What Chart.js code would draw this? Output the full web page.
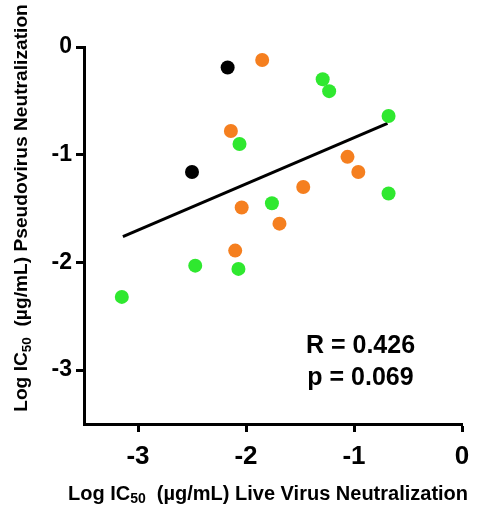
<!DOCTYPE html>
<html>
<head>
<meta charset="utf-8">
<script src="https://cdn.jsdelivr.net/npm/chart.js@4/dist/chart.umd.min.js"></script>
<style>
  html, body { margin: 0; padding: 0; background: #fff; }
  #wrap { width: 488px; height: 509px; position: relative; }
</style>
</head>
<body>
<div id="wrap"><canvas id="scatterChart"></canvas></div>
<script>
// values (log IC50)
const blackX = [-2.17, -2.50];
const blackY = [-0.19, -1.16];
const orangeX = [-2.14, -2.04, -1.85, -1.06, -0.96, -1.47, -1.69, -2.10];
const orangeY = [-0.78, -1.49, -0.12, -1.02, -1.16, -1.30, -1.64, -1.89];
const greenX = [-2.06, -1.29, -1.23, -0.68, -0.68, -1.76, -2.07, -2.47, -3.15];
const greenY = [-0.90, -0.30, -0.41, -0.64, -1.36, -1.45, -2.06, -2.03, -2.32];
const fitX = [-3.14, -0.69];
const fitY = [-1.76, -0.71];
const xTicks = [-3, -2, -1, 0];
const yTicks = [0, -1, -2, -3];
const statLines = ['R = 0.426', 'p = 0.069'];

const FONT = '"Liberation Sans", Arial, Helvetica, sans-serif';

function pts(xs, ys) {
  return xs.map((x, i) => ({ x: x, y: ys[i] }));
}

// draws axis titles (with subscript 50) and the R / p text
const textPlugin = {
  id: 'textPlugin',
  afterDraw(chart) {
    const ctx = chart.ctx;
    const area = chart.chartArea;
    const parts = [
      { t: 'Log IC', sub: false },
      { t: '50', sub: true },
      { t: '  (\u00B5g/mL) ', sub: false }
    ];

    function drawTitle(rest, cx, cy, rot, size) {
      const all = parts.concat([{ t: rest, sub: false }]);
      const fontFor = (p) => 'bold ' + (p.sub ? size * 0.7 : size) + 'px ' + FONT;
      ctx.save();
      ctx.translate(cx, cy);
      ctx.rotate(rot);
      ctx.fillStyle = '#000';
      ctx.textBaseline = 'middle';
      ctx.textAlign = 'left';
      let w = 0;
      all.forEach(p => {
        ctx.font = fontFor(p);
        w += ctx.measureText(p.t).width;
      });
      let x = -w / 2;
      all.forEach(p => {
        ctx.font = fontFor(p);
        ctx.fillText(p.t, x, p.sub ? 5 : 0);
        x += ctx.measureText(p.t).width;
      });
      ctx.restore();
    }

    drawTitle('Live Virus Neutralization', 268, 494, 0, 20);
    drawTitle('Pseudovirus Neutralization', 22, 208, -Math.PI / 2, 19.2);

    ctx.save();
    ctx.fillStyle = '#000';
    ctx.font = 'bold 25px ' + FONT;
    ctx.textAlign = 'center';
    ctx.textBaseline = 'middle';
    const cx = chart.scales.x.getPixelForValue(-0.94);
    ctx.fillText(statLines[0], cx, area.top + 299);
    ctx.fillText(statLines[1], cx, area.top + 331);
    ctx.restore();
  }
};

const ctx = document.getElementById('scatterChart').getContext('2d');

const scatterChart = new Chart(ctx, {
  type: 'scatter',
  data: {
    datasets: [
      {
        type: 'line',
        data: pts(fitX, fitY),
        borderColor: '#000',
        borderWidth: 3,
        pointRadius: 0,
        fill: false,
        order: 2
      },
      {
        data: pts(orangeX, orangeY),
        backgroundColor: '#f57f1f',
        borderColor: '#f57f1f',
        borderWidth: 0,
        pointRadius: 7,
        order: 1
      },
      {
        data: pts(greenX, greenY),
        backgroundColor: '#2fe82f',
        borderColor: '#2fe82f',
        borderWidth: 0,
        pointRadius: 7,
        order: 1
      },
      {
        data: pts(blackX, blackY),
        backgroundColor: '#000',
        borderColor: '#000',
        borderWidth: 0,
        pointRadius: 7,
        order: 1
      }
    ]
  },
  options: {
    responsive: true,
    maintainAspectRatio: false,
    animation: false,
    layout: {
      padding: { left: 0, top: 47, right: 26, bottom: 0 }
    },
    plugins: {
      legend: { display: false },
      tooltip: { enabled: false }
    },
    scales: {
      x: {
        type: 'linear',
        min: -3.5,
        max: 0,
        afterBuildTicks: (scale) => { scale.ticks = xTicks.map(v => ({ value: v })); },
        afterFit: (scale) => { scale.height = 85; },
        grid: {
          display: true,
          drawOnChartArea: false,
          drawTicks: true,
          tickLength: 8,
          tickWidth: 3,
          tickColor: '#000'
        },
        border: { display: true, width: 3, color: '#000' },
        ticks: {
          color: '#000',
          padding: 9,
          maxRotation: 0,
          font: { family: FONT, size: 26, weight: 'bold' },
          callback: (v) => String(v)
        }
      },
      y: {
        type: 'linear',
        min: -3.5,
        max: 0,
        afterBuildTicks: (scale) => { scale.ticks = yTicks.map(v => ({ value: v })); },
        afterFit: (scale) => { scale.width = 84; },
        grid: {
          display: true,
          drawOnChartArea: false,
          drawTicks: true,
          tickLength: 8,
          tickWidth: 3,
          tickColor: '#000'
        },
        border: { display: true, width: 3, color: '#000' },
        ticks: {
          color: '#000',
          padding: 4,
          font: { family: FONT, size: 23, weight: 'bold' },
          callback: (v) => String(v)
        }
      }
    }
  },
  plugins: [textPlugin]
});
</script>
</body>
</html>
